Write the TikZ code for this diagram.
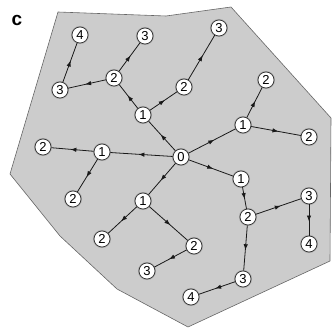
\documentclass[tikz,border=0pt]{standalone}
\usepackage{fontspec}
\setmainfont{Liberation Sans}
\usetikzlibrary{arrows.meta,decorations.markings}
\begin{document}
\begin{tikzpicture}[x=1pt,y=-1pt,
  vert/.style={circle,draw=black!80,line width=0.7pt,fill=white,minimum size=16pt,inner sep=0pt,
    font=\fontsize{13}{13}\selectfont,
    preaction={draw=black!35,line width=2pt}},
  link/.style={draw=black!90,line width=0.8pt,postaction={decorate},
    decoration={markings,mark=at position 0.55 with {\arrow{Latex[length=6pt,width=4.4pt]}}}}]
\useasboundingbox (0,0) rectangle (332,328);
\path[fill=black!20,draw=black!60,line width=0.6pt]
  (58,12) -- (166,16) -- (231,7) -- (331,118) -- (330,261) -- (188,327)
  -- (117,289) -- (60,236) -- (10,174) -- cycle;
\node[font=\fontsize{19}{19}\selectfont\bfseries] (lab) at (17,20) {c};
% nodes
\node[vert] (n0) at (181,157) {0};
\node[vert] (a1) at (143,115) {1};
\node[vert] (a2) at (114,78) {2};
\node[vert] (a3) at (60,90) {3};
\node[vert] (a4) at (80,35) {4};
\node[vert] (a3b) at (145,36) {3};
\node[vert] (b2) at (184,87) {2};
\node[vert] (b3) at (219,28) {3};
\node[vert] (c1) at (243,125) {1};
\node[vert] (c2a) at (266,80) {2};
\node[vert] (c2b) at (309,137) {2};
\node[vert] (d1) at (102,152) {1};
\node[vert] (d2a) at (43,147) {2};
\node[vert] (d2b) at (73,199) {2};
\node[vert] (e1) at (143,201) {1};
\node[vert] (e2a) at (102,239) {2};
\node[vert] (e2b) at (194,246) {2};
\node[vert] (e3) at (147,271) {3};
\node[vert] (f1) at (241,179) {1};
\node[vert] (f2) at (248,217) {2};
\node[vert] (f3a) at (309,196) {3};
\node[vert] (f4a) at (309,244) {4};
\node[vert] (f3b) at (243,279) {3};
\node[vert] (f4b) at (191,297) {4};
% connectors
\foreach \s/\t in {n0/a1,a1/a2,a2/a3,a3/a4,a2/a3b,a1/b2,b2/b3,
  n0/c1,c1/c2a,c1/c2b,n0/d1,d1/d2a,d1/d2b,n0/e1,e1/e2a,e1/e2b,e2b/e3,
  n0/f1,f1/f2,f2/f3a,f3a/f4a,f2/f3b,f3b/f4b}
  \draw[link] (\s) -- (\t);
\end{tikzpicture}
\end{document}
